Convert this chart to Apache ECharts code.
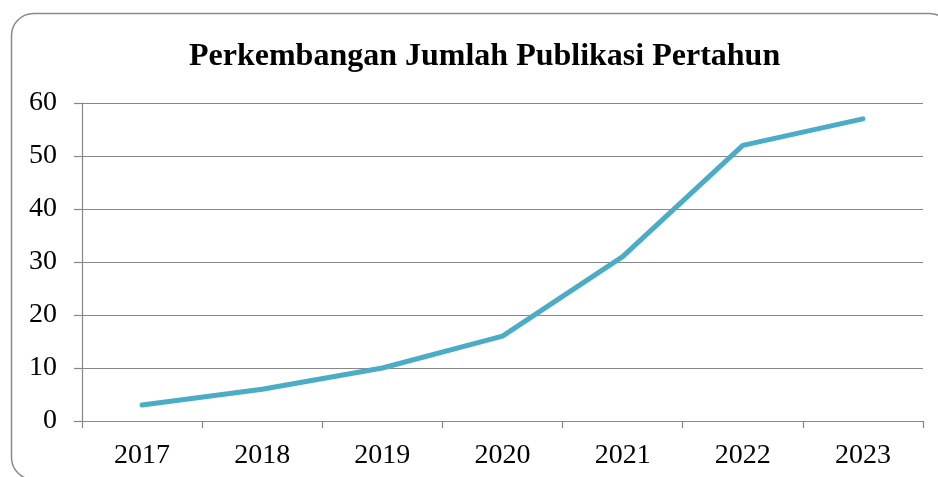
<!DOCTYPE html>
<html>
<head>
<meta charset="utf-8">
<script src="https://cdn.jsdelivr.net/npm/echarts@6/dist/echarts.min.js"></script>
<style>
  html, body { margin: 0; padding: 0; background: #fff; }
  #chart { width: 938px; height: 477px; }
</style>
</head>
<body>
<div id="chart"></div>
<script>
// data
const years = ['2017', '2018', '2019', '2020', '2021', '2022', '2023'];
const publikasi = [3, 6, 10, 16, 31, 52, 57];
const titleText = 'Perkembangan Jumlah Publikasi Pertahun';

const lineColor = '#4BACC6';
const axisGray = '#878787';
const labelFont = 'Liberation Serif';

const chart = echarts.init(document.getElementById('chart'), null, { renderer: 'canvas' });

const option = {
  backgroundColor: '#fff',
  animation: false,
  title: {
    text: titleText,
    left: 184, top: 36,
    textStyle: { fontFamily: labelFont, fontWeight: 'bold', fontSize: 32, color: '#000' }
  },
  graphic: [{
    type: 'rect',
    shape: { x: 11.5, y: 13.5, width: 940, height: 466, r: 22 },
    style: { fill: 'none', stroke: '#8a8a8a', lineWidth: 1.5 },
    silent: true, z: 0
  }],
  grid: { left: 82, right: 15, top: 103, bottom: 56, containLabel: false },
  xAxis: {
    type: 'category', data: years, boundaryGap: true,
    axisLine: { lineStyle: { color: axisGray, width: 1.2 } },
    axisTick: { show: true, length: 7, lineStyle: { color: axisGray, width: 1.2 } },
    axisLabel: { fontFamily: labelFont, fontSize: 28, color: '#000', margin: 21 },
    splitLine: { show: false }
  },
  yAxis: {
    type: 'value', min: 0, max: 60, interval: 10,
    axisLine: { show: true, lineStyle: { color: axisGray, width: 1.2 } },
    axisTick: { show: true, length: 8, lineStyle: { color: axisGray, width: 1.2 } },
    axisLabel: { fontFamily: labelFont, fontSize: 28, color: '#000', margin: 25 },
    splitLine: { show: true, lineStyle: { color: axisGray, width: 1.2 } }
  },
  series: [{
    type: 'line', data: publikasi,
    symbol: 'none',
    lineStyle: { color: lineColor, width: 5, cap: 'round', join: 'round' },
    itemStyle: { color: lineColor }
  }]
};

chart.setOption(option);
</script>
</body>
</html>
